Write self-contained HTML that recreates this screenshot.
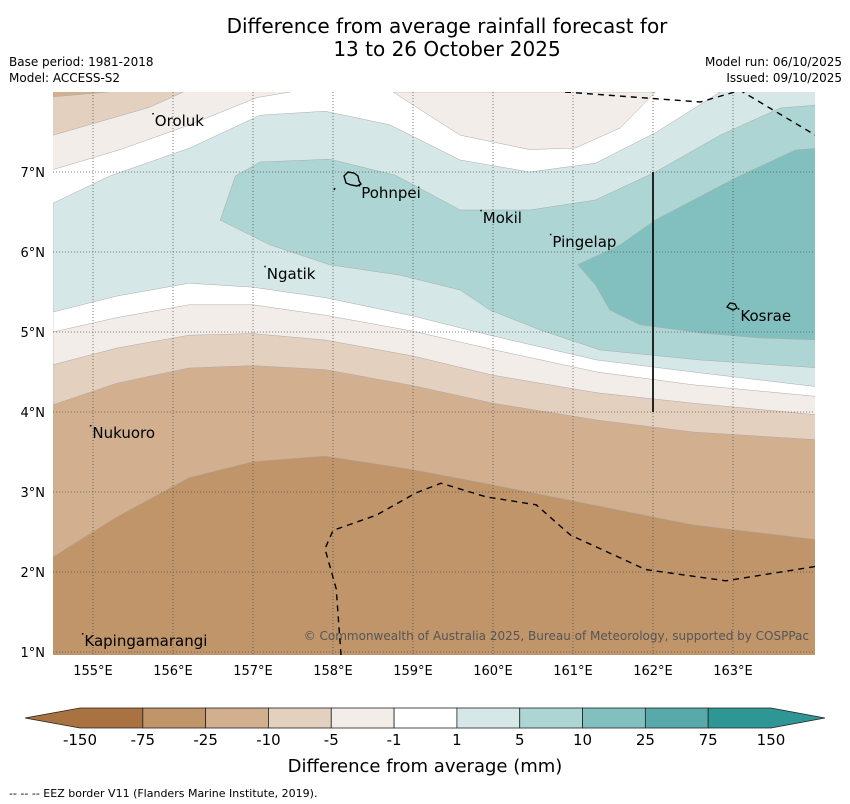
<!DOCTYPE html>
<html><head><meta charset="utf-8"><style>
html,body{margin:0;padding:0;background:#fff;}
svg{display:block;font-family:"DejaVu Sans","Liberation Sans",sans-serif;}
</style></head><body>
<svg id="chart" width="850" height="804" viewBox="0 0 850 804" xmlns="http://www.w3.org/2000/svg">
<text x="447" y="33" font-size="20" text-anchor="middle">Difference from average rainfall forecast for</text>
<text x="447" y="56" font-size="20" text-anchor="middle">13 to 26 October 2025</text>
<text x="9" y="66" font-size="12">Base period: 1981-2018</text>
<text x="9" y="82" font-size="12">Model: ACCESS-S2</text>
<text x="842" y="66" font-size="12" text-anchor="end">Model run: 06/10/2025</text>
<text x="842" y="82" font-size="12" text-anchor="end">Issued: 09/10/2025</text>
<defs><clipPath id="plotclip"><rect x="53" y="92" width="762" height="563"/></clipPath></defs>
<g id="map" clip-path="url(#plotclip)"></g>
<g id="over"></g>
<g id="cbar"></g>
<text x="425" y="772" font-size="18" text-anchor="middle">Difference from average (mm)</text>
<text x="9" y="797" font-size="11">--  --  -- EEZ border V11 (Flanders Marine Institute, 2019).</text>
</svg>
<script>
const gridLons=[154.5,155.3,156.2,157.0,157.9,159.0,160.0,161.3,162.5,164.1];
const lat25=[2.19,2.69,3.18,3.38,3.45,3.28,3.09,2.83,2.59,2.40];
const lat10=[4.09,4.36,4.55,4.58,4.53,4.33,4.11,3.90,3.75,3.65];
const lat5=[4.59,4.80,4.96,4.98,4.90,4.70,4.46,4.24,4.11,3.96];
const lat1n=[5.00,5.18,5.34,5.34,5.21,5.01,4.78,4.50,4.34,4.19];
const lat1p=[5.25,5.45,5.61,5.56,5.43,5.20,4.95,4.65,4.50,4.31];
const topWhiteLon=[154.5,155.21,156.21,157.09,157.9,158.71,159.59,160.46,161.28,162.03,162.84];
const topWhiteLat=[6.61,6.95,7.30,7.71,7.76,7.59,7.15,7.0,7.11,7.49,8.0];
const topBeigeLon=[158.75,159.09,159.59,160.46,161.03,161.59,162.03];
const topBeigeLat=[8,7.78,7.46,7.28,7.30,7.55,8];
const tlBeigeLon=[154.5,155.34,156.21,157.05,157.46];
const tlBeigeLat=[7.03,7.28,7.59,7.93,8];
const tlTanLon=[154.5,155.09,155.71,156.13];
const tlTanLat=[7.46,7.63,7.81,8];
const tlBrownLon=[154.5,155.2];
const tlBrownLat=[7.94,8];
const c5Lon=[156.59,156.78,157.09,157.96,158.78,159.59,160.46,161.28,162.03,162.84,163.59,164.1,164.1,162.59,161.34,160.59,159.96,159.59,158.84,157.96,157.21];
const c5Lat=[6.40,6.95,7.125,7.16,6.96,6.525,6.525,6.65,7.0,7.46,7.8,7.84,4.55,4.65,4.775,5.025,5.275,5.525,5.71,5.84,6.09];
const c10Lon=[161.06,161.59,162.03,163.03,163.78,164.1,164.1,163.34,162.59,161.84,161.46,161.28];
const c10Lat=[5.84,6.09,6.4,6.925,7.275,7.3,4.9,4.925,4.99,5.09,5.275,5.59];
const eezTopLon=[160.9,162.59,163.09,164.03];
const eezTopLat=[8.0,7.875,8.02,7.46];
const eezBotLon=[158.1,158.04,157.9,158.0,158.54,159.04,159.35,159.91,160.54,160.97,161.91,162.91,164.1];
const eezBotLat=[0.96,1.79,2.29,2.52,2.71,2.99,3.11,2.94,2.84,2.46,2.03,1.89,2.08];
const xTicks=[155,156,157,158,159,160,161,162,163];
const yTicks=[1,2,3,4,5,6,7];
const cbLabels=["-150","-75","-25","-10","-5","-1","1","5","10","25","75","150"];
const cbColors=["#a87340","#c0956a","#d2b08f","#e3d0bf","#f2ede8","#ffffff","#d5e8e7","#acd5d4","#82c0bf","#57aaa9","#2e9694"];
const places=["Oroluk","Pohnpei","Mokil","Pingelap","Ngatik","Kosrae","Nukuoro","Kapingamarangi"];
const placeLon=[155.76,158.34,159.86,160.73,157.16,163.08,154.98,154.88];
const placeLat=[7.65,6.75,6.44,6.14,5.74,5.21,3.75,1.15];

const X=lon=>53+(lon-154.5)*80;
const Y=lat=>92+(8-lat)*80;
const NS="http://www.w3.org/2000/svg";
const map=document.getElementById('map'),over=document.getElementById('over'),cbar=document.getElementById('cbar');
function mk(tag,attrs,parent){const e=document.createElementNS(NS,tag);for(const k in attrs)e.setAttribute(k,attrs[k]);parent.appendChild(e);return e;}
function pts(lons,lats){return lons.map((l,i)=>X(l).toFixed(1)+','+Y(lats[i]).toFixed(1));}
function above(lons,lats,color,name){
  const p=pts(lons,lats);p.push(X(lons[lons.length-1])+','+Y(8.2));p.push(X(lons[0])+','+Y(8.2));
  const e=mk('polygon',{points:p.join(' '),fill:color,stroke:'#aaa','stroke-width':0.5},map);
  
  
}
function poly(lons,lats,color,name){
  const e=mk('polygon',{points:pts(lons,lats).join(' '),fill:color,stroke:'#aaa','stroke-width':0.5},map);
  
  
}
const base=mk('rect',{x:53,y:92,width:762,height:563,fill:cbColors[1]},map);


above(gridLons,lat25,cbColors[2],'band-minus25-to-minus10');
above(gridLons,lat10,cbColors[3],'band-minus10-to-minus5');
above(gridLons,lat5,cbColors[4],'band-minus5-to-minus1');
above(gridLons,lat1n,cbColors[5],'band-minus1-to-1');
above(gridLons,lat1p,cbColors[6],'band-1-to-5');
{const p=pts(topWhiteLon,topWhiteLat);p.push(X(154.4)+','+Y(8.2));p.push(X(154.4)+','+Y(6.61));
 const e=mk('polygon',{points:p.join(' '),fill:'#fff',stroke:'#aaa','stroke-width':0.5},map);
 
 }
poly(topBeigeLon,topBeigeLat,cbColors[4],'band-top-middle-dry');
{const l=tlBeigeLon.concat([154.4,154.4]),a=tlBeigeLat.concat([8.2,7.03]);poly(l,a,cbColors[4],'band-topleft-dry');}
{const l=tlTanLon.concat([154.4,154.4]),a=tlTanLat.concat([8.2,7.46]);poly(l,a,cbColors[3],'band-topleft-drier');}
{const l=tlBrownLon.concat([154.4,154.4]),a=tlBrownLat.concat([8.2,7.94]);poly(l,a,cbColors[2],'band-topleft-driest');}
poly(c5Lon,c5Lat,cbColors[7],'band-5-to-10');
poly(c10Lon,c10Lat,cbColors[8],'band-10-to-25');
xTicks.forEach(t=>{const e=mk('line',{x1:X(t),x2:X(t),y1:92,y2:655,stroke:'#555','stroke-width':0.8,'stroke-dasharray':'1,2'},map);
 
 });
yTicks.forEach(t=>{const e=mk('line',{x1:53,x2:815,y1:Y(t),y2:Y(t),stroke:'#555','stroke-width':0.8,'stroke-dasharray':'1,2'},map);
 
 });
[[eezTopLon,eezTopLat],[eezBotLon,eezBotLat]].forEach(([l,a])=>{const e=mk('polyline',{points:pts(l,a).join(' '),fill:'none',stroke:'#000','stroke-width':1.4,'stroke-dasharray':'6,5'},map);
 
 });
{const e=mk('line',{x1:X(162),x2:X(162),y1:Y(7),y2:Y(4),stroke:'#111','stroke-width':1.8},map);
 
 }
{const e=mk('path',{d:'M344,176 l4,-4 l6,1 l4,3 l1,5 l2,3 l-4,2 l-6,-1 l-5,-2 z M334,190 l1,-2',fill:'none',stroke:'#000','stroke-width':1.4},map);
 
 }
{const e=mk('path',{d:'M727,307 l3,-4 l5,1 l2,4 l-4,2 z',fill:'none',stroke:'#000','stroke-width':1.3},map);
 
 }
places.forEach((n,i)=>{const x=X(placeLon[i]),y=Y(placeLat[i]);
 const d=mk('rect',{x:x-1.5,y:y-7,width:1.5,height:1.5,fill:'#000'},map);
 
 
 const t=mk('text',{x:x+1,y:y+6,'font-size':15,fill:'#000'},map);t.textContent=n;
 
 });
{const t=mk('text',{x:809,y:640,'font-size':12,fill:'#555','text-anchor':'end'},map);t.textContent='© Commonwealth of Australia 2025, Bureau of Meteorology, supported by COSPPac';
 
 }
xTicks.forEach(t=>{const e=mk('text',{x:X(t),y:675,'font-size':13,'text-anchor':'middle'},over);e.textContent=t+'°E';
 
 });
yTicks.forEach(t=>{const e=mk('text',{x:45,y:Y(t)+5,'font-size':13,'text-anchor':'end'},over);e.textContent=t+'°N';
 
 });
const cbx0=80,cbw=(771-80)/cbColors.length,cby=708,cbh=20;
cbColors.forEach((c,i)=>{let e;
 if(i===0) e=mk('polygon',{points:`${cbx0+cbw},${cby} ${cbx0},${cby} 25,${cby+cbh/2} ${cbx0},${cby+cbh} ${cbx0+cbw},${cby+cbh}`,fill:c,stroke:'#222','stroke-width':0.8},cbar);
 else if(i===cbColors.length-1) e=mk('polygon',{points:`${cbx0+i*cbw},${cby} ${cbx0+(i+1)*cbw},${cby} 825,${cby+cbh/2} ${cbx0+(i+1)*cbw},${cby+cbh} ${cbx0+i*cbw},${cby+cbh}`,fill:c,stroke:'#222','stroke-width':0.8},cbar);
 else e=mk('rect',{x:cbx0+i*cbw,y:cby,width:cbw,height:cbh,fill:c,stroke:'#222','stroke-width':0.8},cbar);
 
 });
cbLabels.forEach((s,i)=>{const e=mk('text',{x:cbx0+i*cbw,y:745,'font-size':15,'text-anchor':'middle'},cbar);e.textContent=s;
 
 });
</script>
</body></html>
